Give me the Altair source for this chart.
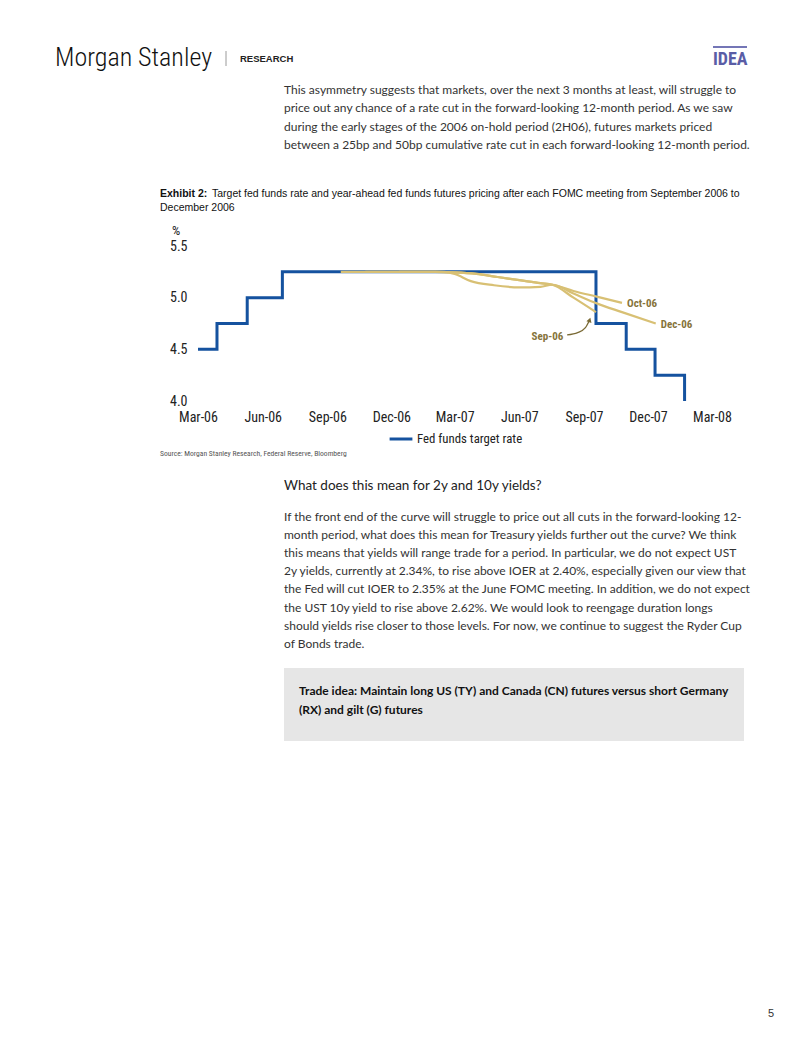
import altair as alt
import pandas as pd

# ---------------- data ----------------
rate_dates = ["2006-03-01", "2006-03-28", "2006-05-10", "2006-06-29",
              "2007-09-18", "2007-10-31", "2007-12-11", "2008-01-22"]
rate_values = [4.50, 4.75, 5.00, 5.25, 4.75, 4.50, 4.25, 3.50]

sep06_dates = ["2006-09-20", "2006-12-01", "2007-02-01", "2007-03-01", "2007-04-01",
               "2007-05-01", "2007-06-01", "2007-07-01", "2007-07-18", "2007-08-17", "2007-09-18"]
sep06_values = [5.25, 5.25, 5.25, 5.245, 5.23, 5.20, 5.17, 5.14, 5.125, 5.00, 4.86]

oct06_dates = ["2006-10-25", "2006-12-01", "2007-02-01", "2007-03-01", "2007-04-01",
               "2007-05-01", "2007-06-01", "2007-07-01", "2007-07-18", "2007-08-17",
               "2007-09-19", "2007-10-25"]
oct06_values = [5.25, 5.25, 5.25, 5.245, 5.23, 5.20, 5.17, 5.14, 5.125, 5.065, 5.01, 4.95]

dec06_dates = ["2006-12-12", "2007-01-15", "2007-02-14", "2007-03-01", "2007-03-24",
               "2007-04-26", "2007-06-01", "2007-07-01", "2007-07-18", "2007-08-17",
               "2007-09-19", "2007-10-25", "2007-12-12"]
dec06_values = [5.25, 5.25, 5.25, 5.23, 5.16, 5.12, 5.10, 5.105, 5.125, 5.04, 4.945, 4.86, 4.75]

series_names = ["Sep-06", "Oct-06", "Dec-06"]
legend_label = "Fed funds target rate"

arrow_dates = ["2007-08-08", "2007-08-23", "2007-09-03", "2007-09-09"]
arrow_values = [4.640, 4.662, 4.710, 4.784]
sep_label_date = "2007-07-11"
sep_label_value = 4.619

y_ticks = [4.0, 4.5, 5.0, 5.5]

header_brand = "Morgan Stanley"
header_section = "RESEARCH"
header_tag = "IDEA"

para1 = [
    "This asymmetry suggests that markets, over the next 3 months at least, will struggle to",
    "price out any chance of a rate cut in the forward-looking 12-month period. As we saw",
    "during the early stages of the 2006 on-hold period (2H06), futures markets priced",
    "between a 25bp and 50bp cumulative rate cut in each forward-looking 12-month period.",
]
exhibit_label = "Exhibit 2:"
exhibit_title = [
    "Target fed funds rate and year-ahead fed funds futures pricing after each FOMC meeting from September 2006 to",
    "December 2006",
]
unit_label = "%"
source_text = "Source: Morgan Stanley Research, Federal Reserve, Bloomberg"
heading2 = "What does this mean for 2y and 10y yields?"
para2 = [
    "If the front end of the curve will struggle to price out all cuts in the forward-looking 12-",
    "month period, what does this mean for Treasury yields further out the curve? We think",
    "this means that yields will range trade for a period. In particular, we do not expect UST",
    "2y yields, currently at 2.34%, to rise above IOER at 2.40%, especially given our view that",
    "the Fed will cut IOER to 2.35% at the June FOMC meeting. In addition, we do not expect",
    "the UST 10y yield to rise above 2.62%. We would look to reengage duration longs",
    "should yields rise closer to those levels. For now, we continue to suggest the Ryder Cup",
    "of Bonds trade.",
]
trade_box = [
    "Trade idea: Maintain long US (TY) and Canada (CN) futures versus short Germany",
    "(RX) and gilt (G) futures",
]
page_number = "5"

# ---------------- styling ----------------
OX, OY = 198, 246            # page position of plot-area origin
BLUE = "#15529F"
GOLD = "#D8C074"
GOLD_TXT = "#86733A"
AX_FONT = "Roboto Condensed, Roboto, sans-serif"
BODY = "Lato, sans-serif"
TITLE_FONT = "Liberation Sans, Arial, sans-serif"

rates = pd.DataFrame({"date": rate_dates, "rate": rate_values, "s": legend_label})
fut_rows = []
for name, ds, vs in zip(series_names, [sep06_dates, oct06_dates, dec06_dates],
                        [sep06_values, oct06_values, dec06_values]):
    for d, v in zip(ds, vs):
        fut_rows.append({"date": d, "rate": v, "series": name})
fut = pd.DataFrame(fut_rows)
ends = fut.groupby("series").tail(1)
ends = ends[ends["series"] != "Sep-06"]
arrow = pd.DataFrame({"date": arrow_dates, "rate": arrow_values})
arrow_head = arrow.tail(1)
sep_lab = pd.DataFrame({"date": [sep_label_date], "rate": [sep_label_value], "t": ["Sep-06"]})

tick_dates = []
for yr, mo in [(2006, 3), (2006, 6), (2006, 9), (2006, 12), (2007, 3), (2007, 6),
               (2007, 9), (2007, 12), (2008, 3)]:
    tick_dates.append(alt.DateTime(year=yr, month=mo, date=1))

x_enc = alt.X("date:T", title=None,
              scale=alt.Scale(domain=[alt.DateTime(year=2006, month=3, date=1),
                                      alt.DateTime(year=2008, month=3, date=1)]),
              axis=alt.Axis(values=tick_dates, format="%b-%y", labelFlush=False,
                            labelOverlap=False, domain=False, ticks=False, grid=False,
                            labelFont=AX_FONT, labelFontSize=14, labelColor="#222",
                            labelPadding=9))
y_enc = alt.Y("rate:Q", title=None,
              scale=alt.Scale(domain=[4.0, 5.5], nice=False, zero=False),
              axis=alt.Axis(values=y_ticks, format=".1f", labelFlush=False,
                            domain=False, ticks=False, grid=False,
                            labelFont=AX_FONT, labelFontSize=14, labelColor="#222",
                            labelPadding=11))

blue = alt.Chart(rates).mark_line(interpolate="step-after", strokeWidth=3, clip=True).encode(
    x=x_enc, y=y_enc,
    color=alt.Color("s:N", scale=alt.Scale(domain=[legend_label], range=[BLUE]),
                    legend=alt.Legend(orient="none", legendX=190, legendY=180, title=None,
                                      symbolType="stroke", symbolStrokeWidth=3,
                                      symbolSize=520, labelFont=AX_FONT, labelFontSize=12.8,
                                      labelColor="#222", labelOffset=3)))

gold = alt.Chart(fut).mark_line(interpolate="monotone", strokeWidth=2.2, color=GOLD).encode(
    x="date:T", y="rate:Q", detail="series:N")

end_labels = alt.Chart(ends).mark_text(align="left", baseline="middle", dx=5, dy=1.5,
                                       fontSize=11, fontWeight="bold", font=AX_FONT,
                                       color=GOLD_TXT).encode(
    x="date:T", y="rate:Q", text="series:N")

sep_text = alt.Chart(sep_lab).mark_text(align="center", baseline="middle", fontSize=11,
                                        fontWeight="bold", font=AX_FONT, color=GOLD_TXT).encode(
    x="date:T", y="rate:Q", text="t:N")

arrow_line = alt.Chart(arrow).mark_line(interpolate="monotone", strokeWidth=1.3,
                                        color="#7A6A35").encode(x="date:T", y="rate:Q")
arrow_tip = alt.Chart(arrow_head).mark_point(shape="triangle-up", filled=True, size=28,
                                             angle=18, color="#7A6A35", opacity=1).encode(
    x="date:T", y="rate:Q")


def one():
    return alt.Data(values=[{"k": 1}])


def line_text(s, x, y, size, color="#333", weight="normal", font=BODY, align="left"):
    return alt.Chart(alt.Data(values=[{"t": s}])).mark_text(
        align=align, baseline="middle", fontSize=size, fontWeight=weight, font=font,
        color=color).encode(x=alt.value(x - OX), y=alt.value(y - OY), text="t:N")


page = []
# header
page.append(line_text(header_brand, 55, 58, 26, color="#111", font=AX_FONT, weight=300))
page.append(alt.Chart(one()).mark_rule(color="#9a9a9a", strokeWidth=1).encode(
    x=alt.value(226 - OX), y=alt.value(51 - OY), y2=alt.value(66 - OY)))
page.append(line_text(header_section, 240, 58.5, 9.5, color="#222", weight="bold",
                      font=TITLE_FONT))
page.append(alt.Chart(one()).mark_rule(color="#7476B6", strokeWidth=2).encode(
    x=alt.value(713 - OX), x2=alt.value(747 - OX), y=alt.value(47 - OY)))
page.append(line_text(header_tag, 713, 60, 18, color="#5A5DA6", weight="bold", font=AX_FONT))
# paragraph 1
for i, s in enumerate(para1):
    page.append(line_text(s, 284, 90 + i * 18.3, 12))
# exhibit title
page.append(line_text(exhibit_label, 160, 194, 10.5, color="#111", weight="bold", font=TITLE_FONT))
page.append(line_text(exhibit_title[0], 212, 194, 10.5, color="#111", font=TITLE_FONT))
page.append(line_text(exhibit_title[1], 160, 208, 10.5, color="#111", font=TITLE_FONT))
page.append(line_text(unit_label, 176, 231, 13, color="#222", font=AX_FONT, align="center"))
page.append(line_text(source_text, 160, 454, 7.6, color="#555", font=AX_FONT))
# section 2
page.append(line_text(heading2, 284, 486, 13.5, color="#222"))
for i, s in enumerate(para2):
    page.append(line_text(s, 284, 517 + i * 18.1, 12))
page.append(alt.Chart(one()).mark_rect(color="#E6E6E6").encode(
    x=alt.value(284 - OX), x2=alt.value(744 - OX), y=alt.value(668 - OY), y2=alt.value(741 - OY)))
for i, s in enumerate(trade_box):
    page.append(line_text(s, 299, 691 + i * 18.5, 12, color="#111", weight="bold"))
page.append(line_text(page_number, 771, 1014, 11, color="#333", font=TITLE_FONT, align="center"))

chart = alt.layer(blue, gold, end_labels, sep_text, arrow_line, arrow_tip, *page).properties(
    width=514, height=155,
    autosize=alt.AutoSizeParams(type="none"),
    padding={"left": 190, "top": 238, "right": 82, "bottom": 628},
    background="white",
).configure_view(stroke=None)

chart.save("out.html", embed_options={"renderer": "svg", "actions": False})
